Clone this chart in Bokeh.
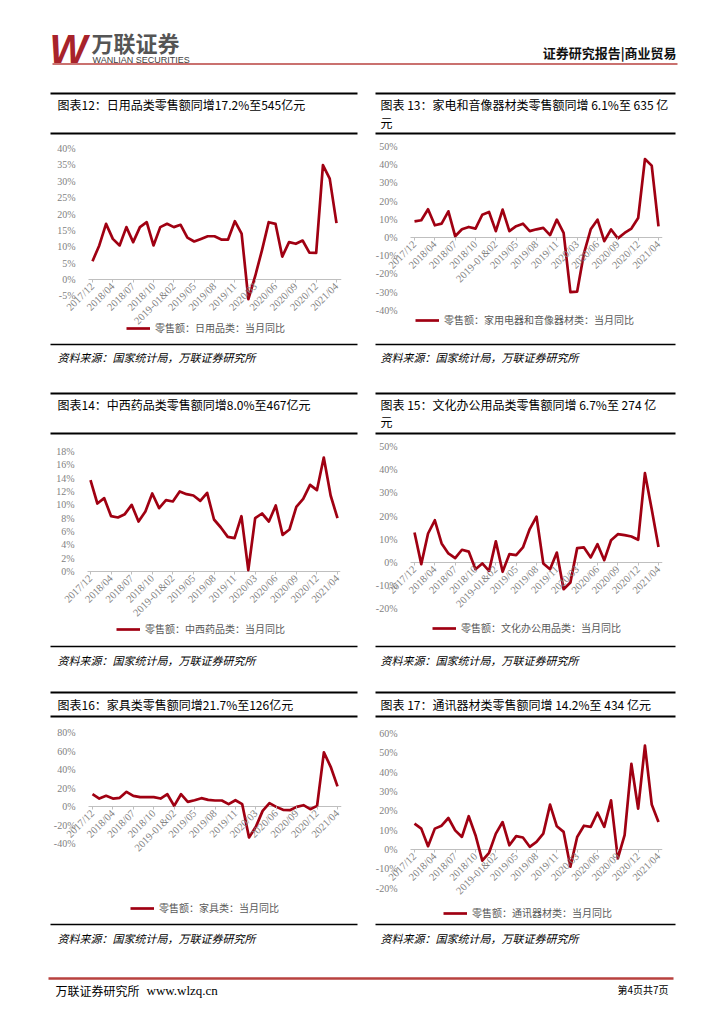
import math
from bokeh.plotting import figure
from bokeh.layouts import column, row
from bokeh.models import Range1d, FixedTicker, PrintfTickFormatter, Legend, LegendItem
from bokeh.core.properties import value
from bokeh.embed import file_html
from bokeh.resources import INLINE

# ---------------- data ----------------
months = ["2017/12", "2018-01&02", "2018/03", "2018/04", "2018/05", "2018/06", "2018/07",
          "2018/08", "2018/09", "2018/10", "2018/11", "2018/12", "2019-01&02", "2019/03",
          "2019/04", "2019/05", "2019/06", "2019/07", "2019/08", "2019/09", "2019/10",
          "2019/11", "2019/12", "2020-01&02", "2020/03", "2020/04", "2020/05", "2020/06",
          "2020/07", "2020/08", "2020/09", "2020/10", "2020/11", "2020/12", "2021-01&02",
          "2021/03", "2021/04"]

daily_goods = [5.6, 10.4, 17.0, 12.4, 10.4, 16.0, 11.4, 16.0, 17.5, 10.4, 16.0, 17.0, 16.0,
               16.7, 12.8, 11.6, 12.4, 13.2, 13.2, 12.2, 12.2, 17.8, 14.0, -6.0, 1.0, 8.9,
               17.5, 17.0, 7.0, 11.4, 10.9, 11.9, 8.2, 8.1, 34.9, 30.8, 17.2]
appliances = [8.9, 9.5, 15.5, 6.7, 7.6, 14.4, 0.7, 4.5, 5.8, 4.9, 12.5, 14.0, 3.5, 15.3, 3.5,
              6.2, 7.6, 3.5, 4.5, 5.3, 1.3, 9.8, 2.5, -30.0, -29.7, -8.7, 4.5, 9.8, -2.0,
              4.4, -0.5, 2.5, 4.9, 10.7, 43.1, 39.5, 6.1]
medicine = [13.7, 10.2, 11.0, 8.3, 8.1, 8.6, 10.0, 7.5, 9.0, 11.7, 9.5, 10.7, 10.5, 12.0,
            11.6, 11.4, 10.6, 11.8, 7.8, 6.6, 5.2, 5.0, 8.3, 0.2, 8.0, 8.7, 7.5, 9.9, 5.5,
            6.3, 9.7, 10.9, 13.0, 12.2, 17.1, 11.4, 8.0]
office = [12.9, -0.7, 12.5, 18.2, 8.2, 3.9, 1.9, 5.5, 4.7, -2.9, -0.4, -3.6, 9.1, -4.0, 3.6,
          3.2, 6.5, 14.4, 19.8, -0.4, -2.9, 4.3, -11.5, -8.6, 6.2, 6.5, 2.2, 7.9, 1.0, 9.6,
          12.2, 11.8, 11.2, 9.8, 38.5, 23.0, 6.7]
furniture = [13.3, 8.6, 11.5, 8.6, 9.4, 15.9, 11.5, 10.1, 10.1, 10.1, 8.6, 13.3, 0.7, 13.3,
             5.0, 6.8, 9.0, 7.2, 6.5, 6.5, 2.5, 6.8, 2.5, -33.5, -22.0, -4.7, 3.6, -0.4,
             -3.6, -4.0, -0.4, 1.4, -2.9, 0.7, 58.5, 42.9, 21.7]
telecom = [13.4, 10.8, 1.7, 10.8, 12.3, 16.3, 9.9, 6.5, 17.2, 7.4, -5.8, -1.7, 8.2, 14.2,
           2.2, 6.9, 6.2, 1.4, 3.9, 8.2, 23.2, 12.0, 9.1, -8.9, 6.5, 12.3, 11.7, 19.0, 11.7,
           25.4, -4.6, 7.4, 44.3, 21.1, 53.7, 23.3, 14.2]

label_step = 3
ticks_daily = [-5, 0, 5, 10, 15, 20, 25, 30, 35, 40]
ticks_appl = [-40, -30, -20, -10, 0, 10, 20, 30, 40, 50]
ticks_med = [0, 2, 4, 6, 8, 10, 12, 14, 16, 18]
ticks_office = [-20, -10, 0, 10, 20, 30, 40, 50]
ticks_furn = [-40, -20, 0, 20, 40, 60, 80]
ticks_tele = [-20, -10, 0, 10, 20, 30, 40, 50, 60]

titles = {
    "t12": "图表12：日用品类零售额同增17.2%至545亿元",
    "t13a": "图表 13：家电和音像器材类零售额同增 6.1%至 635 亿",
    "t13b": "元",
    "t14": "图表14：中西药品类零售额同增8.0%至467亿元",
    "t15a": "图表 15：文化办公用品类零售额同增 6.7%至 274 亿",
    "t15b": "元",
    "t16": "图表16：家具类零售额同增21.7%至126亿元",
    "t17": "图表 17：通讯器材类零售额同增 14.2%至 434 亿元",
}
legend_labels = ["零售额：日用品类：当月同比", "零售额：家用电器和音像器材类：当月同比",
                 "零售额：中西药品类：当月同比", "零售额：文化办公用品类：当月同比",
                 "零售额：家具类：当月同比", "零售额：通讯器材类：当月同比"]
source_text = "资料来源：国家统计局，万联证券研究所"

LINE_RED = "#A00012"
CJK = "Noto Sans CJK SC"
SERIF = "Liberation Serif"
GRAY = "#7f7f7f"
PAGE_W = 708


# ---------------- helpers ----------------
def deco(y0, y1):
    p = figure(width=PAGE_W, height=y1 - y0, x_range=Range1d(0, PAGE_W), y_range=Range1d(y1, y0),
               x_axis_type=None, y_axis_type=None, min_border=0, toolbar_location=None,
               output_backend="svg")
    p.outline_line_color = None
    return p


def hline(p, x0, x1, y, w=2, color="#000000"):
    p.segment(x0=[x0], y0=[y], x1=[x1], y1=[y], line_width=w, line_color=color)


def txt(p, x, y, s, size="12px", color="#000000", align="left", font=CJK, style="normal"):
    p.text(x=[x], y=[y], text=[s], text_font=value(font), text_font_size=size,
           text_color=color, text_align=align, text_baseline="middle", text_font_style=style)


def make_chart(vals, fig, axis_x, frame_y, px0, pxn, yref, ticks, legend_pos, label):
    fx0, fy0, fw, fh = fig
    al, ar = axis_x
    ft, fb = frame_y
    fl, fr = fx0, ar
    n = len(months) - 1
    s = (pxn - px0) / n
    x_start = 0 - (px0 - fl) / s
    x_end = n + (fr - pxn) / s
    x_axis_left = 0 - (px0 - al) / s
    (v1, p1), (v2, p2) = yref
    k = (p2 - p1) / (v1 - v2)
    y_end = v1 + (p1 - ft) / k
    y_start = v2 - (fb - p2) / k
    p = figure(width=fw, height=fh, x_range=Range1d(x_start, x_end),
               y_range=Range1d(y_start, y_end), toolbar_location=None, output_backend="svg",
               min_border_left=0, min_border_right=fx0 + fw - fr,
               min_border_top=ft - fy0, min_border_bottom=fy0 + fh - fb)
    p.outline_line_color = None
    p.grid.visible = False
    xs = list(range(len(months)))
    # horizontal zero axis line
    p.segment(x0=[x_axis_left], y0=[0], x1=[x_end], y1=[0], line_color="#bfbfbf", line_width=1)
    r = p.line(xs, vals, line_color=LINE_RED, line_width=2.7, line_join="round")

    xa = p.xaxis[0]
    xa.fixed_location = 0
    tick_idx = xs[::label_step]
    xa.ticker = FixedTicker(ticks=tick_idx)
    xa.major_label_overrides = {i: months[i] for i in tick_idx}
    xa.major_label_orientation = math.pi / 4
    xa.axis_line_color = None
    xa.major_tick_line_color = "#bfbfbf"
    xa.major_tick_in = 0
    xa.major_tick_out = 3
    xa.minor_tick_line_color = None
    xa.major_label_text_font = SERIF
    xa.major_label_text_font_size = "10.5px"
    xa.major_label_text_color = GRAY
    xa.major_label_standoff = 2

    ya = p.yaxis[0]
    ya.fixed_location = x_axis_left
    ya.ticker = FixedTicker(ticks=ticks)
    ya.formatter = PrintfTickFormatter(format="%d%%")
    ya.axis_line_color = None
    ya.major_tick_line_color = None
    ya.minor_tick_line_color = None
    ya.major_label_text_font = SERIF
    ya.major_label_text_font_size = "10px"
    ya.major_label_text_color = GRAY
    ya.major_label_standoff = 7

    lx, ly = legend_pos
    leg = Legend(items=[LegendItem(label=label, renderers=[r])],
                 location=(lx - fl, fb - ly - 6), orientation="horizontal",
                 glyph_width=24, glyph_height=12, label_height=12, label_standoff=5,
                 padding=0, margin=0, spacing=0, border_line_color=None,
                 background_fill_alpha=0, label_text_font=CJK, label_text_font_size="10px",
                 label_text_color="#595959")
    p.add_layout(leg)
    return p


# ---------------- header + row-1 titles ----------------
PL = (50, 357)
PR = (375, 675)
LX = 0
RX = 354
HALF = 354

d1 = deco(0, 136)
txt(d1, 49, 48.5, "W", size="40px", color="#A8232B", font="Liberation Sans", style="bold italic")
txt(d1, 91, 41, "万联证券", size="22px", color="#555555", style="bold")
txt(d1, 92, 59.5, "WANLIAN SECURITIES", size="9px", color="#404040", font="Liberation Sans")
txt(d1, 676, 52, "证券研究报告|商业贸易", size="13px", color="#111111", align="right", style="bold")
hline(d1, 52, 677, 63.5, 1.6, "#B8423F")
for (a, b) in (PL, PR):
    hline(d1, a, b, 93, 2.2)
    hline(d1, a, b, 133, 2.2)
txt(d1, 57, 104, titles["t12"])
txt(d1, 380, 104, titles["t13a"])
txt(d1, 380, 122, titles["t13b"])

# ---------------- charts row 1 ----------------
c12 = make_chart(daily_goods, (LX, 136, HALF, 205), (88, 341), (137, 340), 92, 336,
                 ((40, 148), (0, 279)), ticks_daily, (126, 329), legend_labels[0])
c13 = make_chart(appliances, (RX, 136, HALF, 205), (410, 662), (137, 340), 414, 658,
                 ((50, 146), (0, 237)), ticks_appl, (415, 321), legend_labels[1])

# ---------------- sources row 1 + row-2 titles ----------------
d2 = deco(341, 436)
for (a, b) in (PL, PR):
    hline(d2, a, b, 344, 1.6)
    hline(d2, a, b, 393, 2.2)
    hline(d2, a, b, 433, 2.2)
txt(d2, 57, 356, source_text, size="11px", style="italic")
txt(d2, 380, 356, source_text, size="11px", style="italic")
txt(d2, 57, 404, titles["t14"])
txt(d2, 380, 404, titles["t15a"])
txt(d2, 380, 421, titles["t15b"])

# ---------------- charts row 2 ----------------
c14 = make_chart(medicine, (LX, 436, HALF, 207), (87, 340), (437, 642), 90, 337,
                 ((18, 451), (0, 571)), ticks_med, (116, 630), legend_labels[2])
c15 = make_chart(office, (RX, 436, HALF, 207), (410, 662), (437, 642), 414, 658,
                 ((50, 446), (0, 562)), ticks_office, (432, 629), legend_labels[3])

# ---------------- sources row 2 + row-3 titles ----------------
d3 = deco(643, 725)
for (a, b) in (PL, PR):
    hline(d3, a, b, 646, 1.6)
    hline(d3, a, b, 692, 2.2)
    hline(d3, a, b, 716, 2.2)
txt(d3, 57, 659, source_text, size="11px", style="italic")
txt(d3, 380, 659, source_text, size="11px", style="italic")
txt(d3, 57, 704, titles["t16"])
txt(d3, 380, 704, titles["t17"])

# ---------------- charts row 3 ----------------
c16 = make_chart(furniture, (LX, 725, HALF, 196), (88, 341), (726, 920), 92, 337,
                 ((80, 732), (0, 806)), ticks_furn, (130, 909), legend_labels[4])
c17 = make_chart(telecom, (RX, 725, HALF, 196), (410, 662), (726, 920), 414, 658,
                 ((60, 733), (0, 849)), ticks_tele, (443, 914), legend_labels[5])

# ---------------- sources row 3 + footer ----------------
d4 = deco(921, 1012)
for (a, b) in (PL, PR):
    hline(d4, a, b, 924, 1.6)
txt(d4, 57, 937, source_text, size="11px", style="italic")
txt(d4, 380, 937, source_text, size="11px", style="italic")
hline(d4, 48, 673, 978, 2.4, "#B8423F")
txt(d4, 55, 990, "万联证券研究所", size="12px")
txt(d4, 146, 990, "www.wlzq.cn", size="13px", font=SERIF)
txt(d4, 668, 989, "第4页共7页", size="10px", align="right")

layout = column(d1, row(c12, c13, spacing=0), d2, row(c14, c15, spacing=0), d3,
                row(c16, c17, spacing=0), d4, spacing=0)

open("out.html", "w").write(file_html(layout, INLINE, "万联证券"))
